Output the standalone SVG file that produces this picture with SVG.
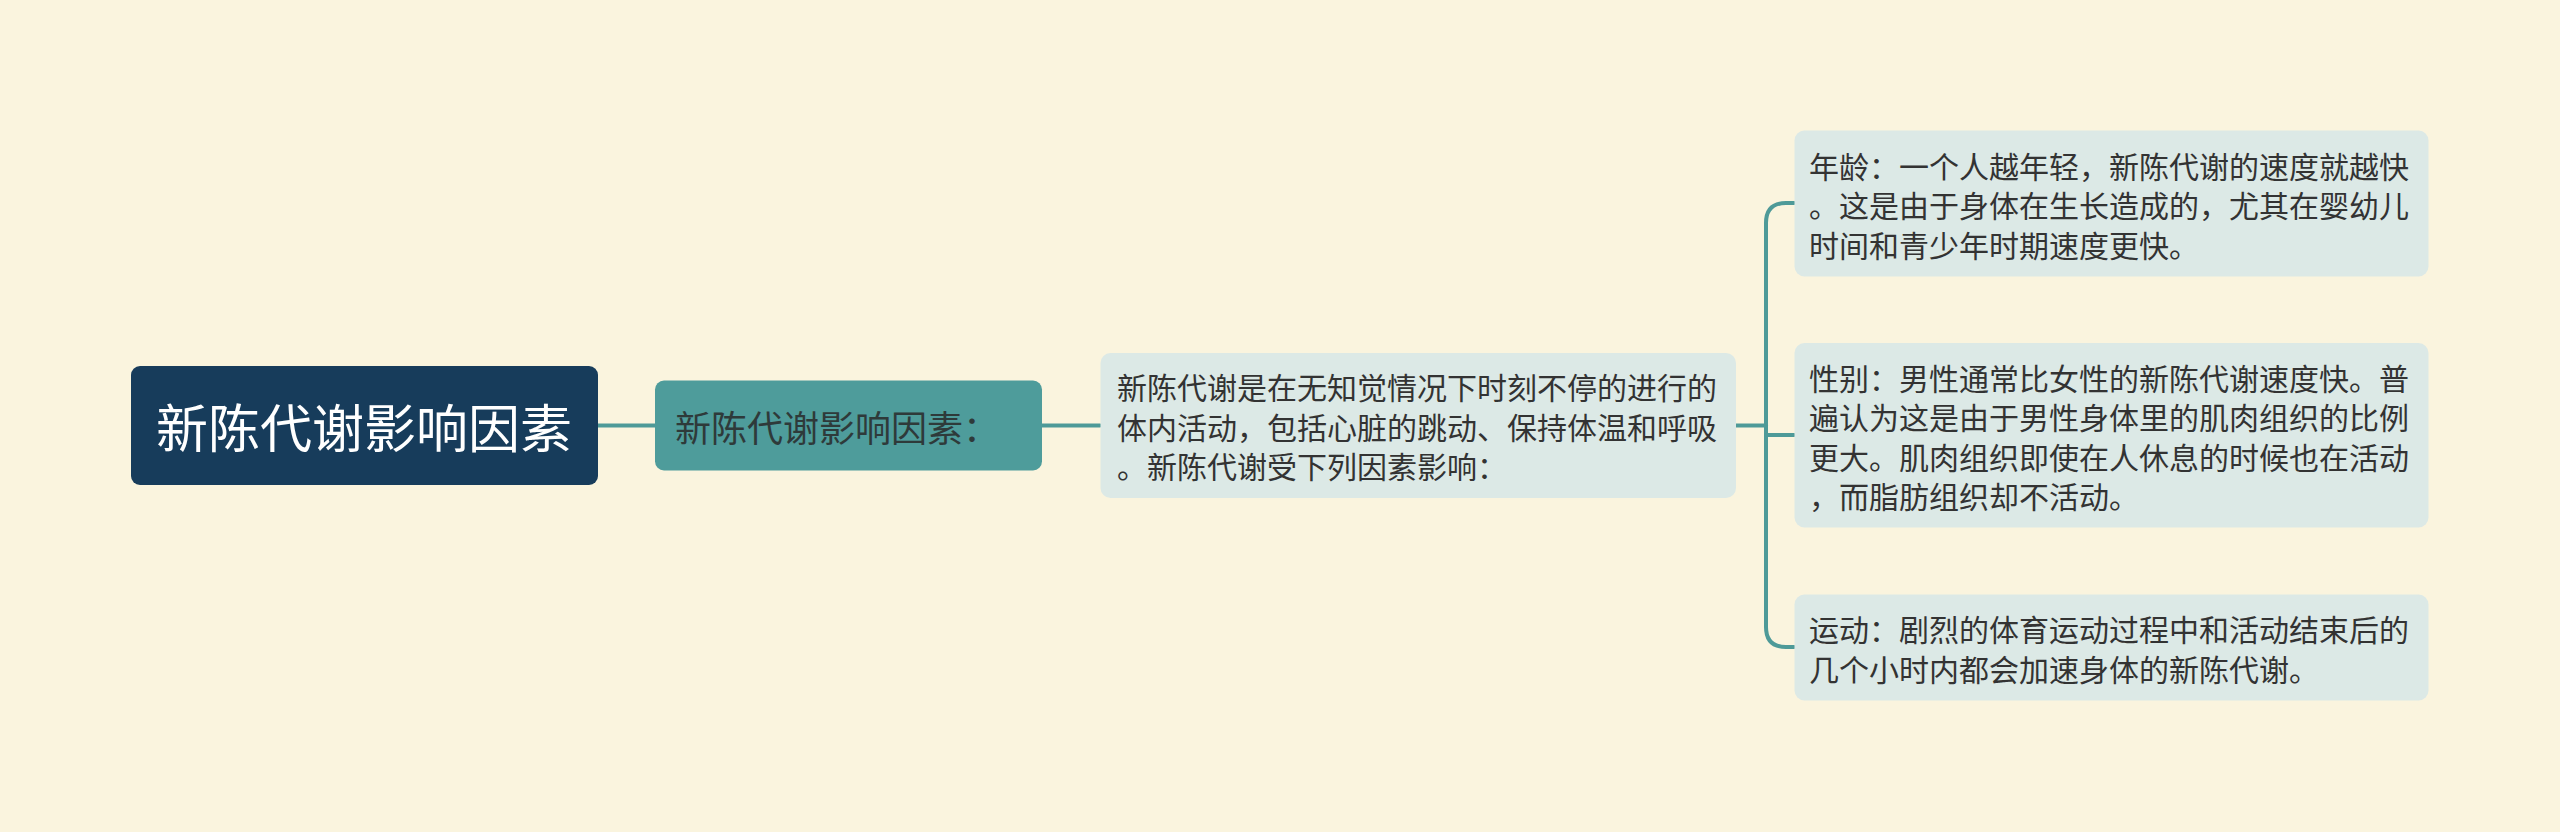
<svg xmlns="http://www.w3.org/2000/svg" width="2560" height="832" viewBox="0 0 2560 832">
<style>
.t{font-family:"Noto Sans CJK SC","Noto Sans",sans-serif;}
.leaf{fill:#dce9e6;}
.lt{font-size:30px;fill:#333333;}
.conn{fill:none;stroke:#4e9a98;stroke-width:4;stroke-linecap:round;}
</style>
<rect width="2560" height="832" fill="#faf4de"/>
<g id="connectors">
<path class="conn" d="M598 425.5 H655"/>
<path class="conn" d="M1042 425.5 H1100"/>
<path class="conn" d="M1736 425.5 H1766"/>
<path class="conn" d="M1794 203 H1786 Q1766 203 1766 223 V627 Q1766 647 1786 647 H1794"/>
<path class="conn" d="M1766 435 H1794"/>
</g>
<g id="root">
<rect x="131" y="366" width="467" height="119" rx="9" fill="#173c5b"/>
<text class="t" x="364" y="425.5" font-size="52" fill="#ffffff" text-anchor="middle" dominant-baseline="central">新陈代谢影响因素</text>
</g>
<g id="sub">
<rect x="655" y="380.5" width="387" height="90" rx="9" fill="#4e9c9b"/>
<text class="t" x="675" y="425.5" font-size="36" fill="#2e3a3a" dominant-baseline="central">新陈代谢影响因素：</text>
</g>
<g id="desc">
<rect class="leaf" x="1100.5" y="353" width="635.5" height="145" rx="10"/>
<text class="t lt" dominant-baseline="central"><tspan x="1117" y="386">新陈代谢是在无知觉情况下时刻不停的进行的</tspan><tspan x="1117" y="425.5">体内活动，包括心脏的跳动、保持体温和呼吸</tspan><tspan x="1117" y="465">。新陈代谢受下列因素影响：</tspan></text>
</g>
<g id="age">
<rect class="leaf" x="1794.5" y="130.5" width="634" height="146" rx="10"/>
<text class="t lt" dominant-baseline="central"><tspan x="1809" y="164.5">年龄：一个人越年轻，新陈代谢的速度就越快</tspan><tspan x="1809" y="204">。这是由于身体在生长造成的，尤其在婴幼儿</tspan><tspan x="1809" y="243.5">时间和青少年时期速度更快。</tspan></text>
</g>
<g id="gender">
<rect class="leaf" x="1794.5" y="343" width="634" height="184.5" rx="10"/>
<text class="t lt" dominant-baseline="central"><tspan x="1809" y="376.5">性别：男性通常比女性的新陈代谢速度快。普</tspan><tspan x="1809" y="416">遍认为这是由于男性身体里的肌肉组织的比例</tspan><tspan x="1809" y="455.5">更大。肌肉组织即使在人休息的时候也在活动</tspan><tspan x="1809" y="495">，而脂肪组织却不活动。</tspan></text>
</g>
<g id="exercise">
<rect class="leaf" x="1794.5" y="594.5" width="634" height="106" rx="10"/>
<text class="t lt" dominant-baseline="central"><tspan x="1809" y="628">运动：剧烈的体育运动过程中和活动结束后的</tspan><tspan x="1809" y="667.5">几个小时内都会加速身体的新陈代谢。</tspan></text>
</g>
</svg>
